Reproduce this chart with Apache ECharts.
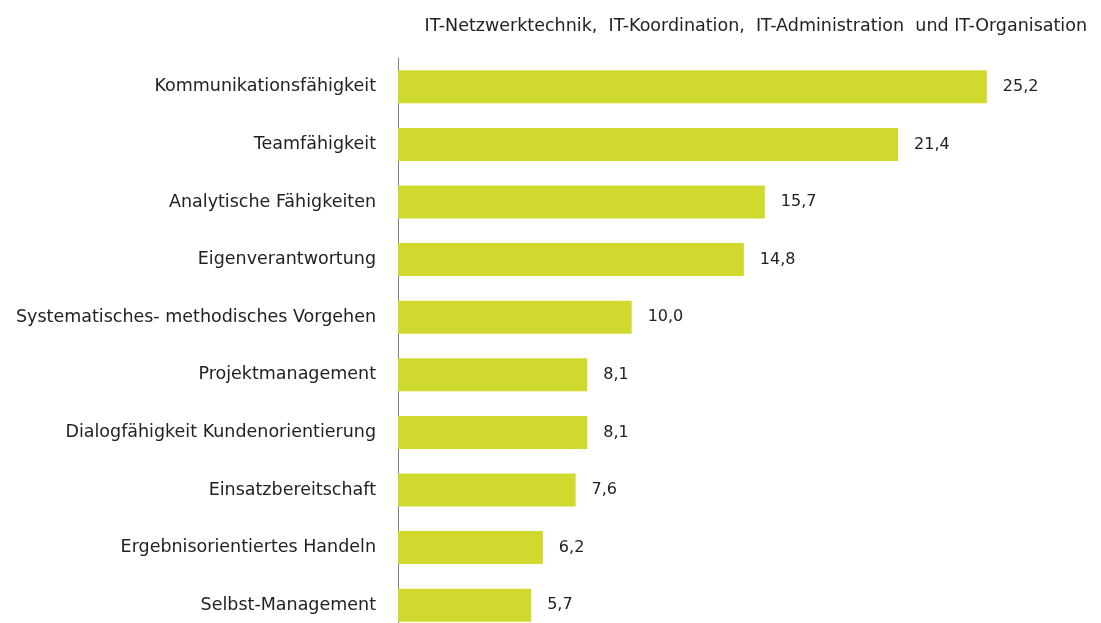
<!DOCTYPE html>
<html>
<head>
<meta charset="utf-8">
<script src="https://cdn.jsdelivr.net/npm/echarts@6/dist/echarts.min.js"></script>
<style>
  html, body { margin: 0; padding: 0; background: #fff; }
  #chart { width: 1101px; height: 623px; }
</style>
</head>
<body>
<div id="chart"></div>
<script>
// Kategorien von oben nach unten
const categories = [
  "Kommunikationsfähigkeit",
  "Teamfähigkeit",
  "Analytische Fähigkeiten",
  "Eigenverantwortung",
  "Systematisches- methodisches Vorgehen",
  "Projektmanagement",
  "Dialogfähigkeit Kundenorientierung",
  "Einsatzbereitschaft",
  "Ergebnisorientiertes Handeln",
  "Selbst-Management"
];
const values = [25.2, 21.4, 15.7, 14.8, 10.0, 8.1, 8.1, 7.6, 6.2, 5.7];
const chartTitle = "IT-Netzwerktechnik,  IT-Koordination,  IT-Administration  und IT-Organisation";

const fontFamily = "'DejaVu Sans', sans-serif";

const chart = echarts.init(document.getElementById("chart"));
chart.setOption({
  animation: false,
  title: {
    text: chartTitle,
    right: 9,
    top: 12,
    textStyle: {
      fontFamily: fontFamily,
      fontSize: 17.5,
      fontWeight: "normal",
      color: "#222"
    }
  },
  grid: {
    left: 398,
    width: 701,
    top: 58,
    height: 576,
    outerBoundsMode: "none"
  },
  xAxis: {
    type: "value",
    min: 0,
    max: 30,
    show: false
  },
  yAxis: {
    type: "category",
    inverse: true,
    data: categories,
    axisTick: { show: false },
    axisLine: { lineStyle: { color: "#7f7f7f", width: 1 } },
    axisLabel: {
      margin: 22,
      fontFamily: fontFamily,
      fontSize: 17.5,
      color: "#222"
    }
  },
  series: [
    {
      type: "bar",
      data: values,
      barWidth: 33,
      itemStyle: { color: "#d0d92e" },
      label: {
        show: true,
        position: "right",
        distance: 16,
        fontFamily: fontFamily,
        fontSize: 16,
        color: "#222",
        formatter: p => p.value.toFixed(1).replace(".", ",")
      }
    }
  ]
});
</script>
</body>
</html>
